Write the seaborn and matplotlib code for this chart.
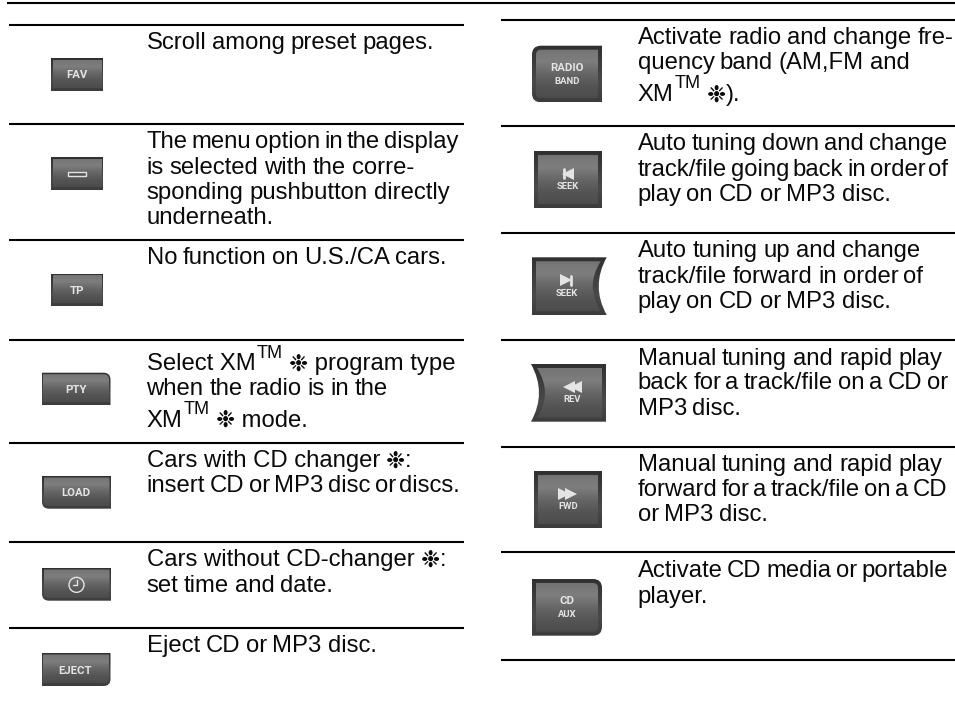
import re
import matplotlib
matplotlib.use('Agg')
import matplotlib.pyplot as plt
import numpy as np
import pandas as pd
import seaborn as sns
from matplotlib.patches import PathPatch, Rectangle, Circle
from matplotlib.path import Path

# Rows of the two tables (pixels)
TOP_RULE_Y = 2.7
LEFT_RULES = [25, 124, 239.7, 340, 443, 542, 627.7]
RIGHT_RULES = [20, 126, 232.7, 340, 446.7, 552.3, 659.7]

# text, baseline, right end of the line (the page squeezes word spaces to fit)
# ^ marks the TM superscript, * marks the option sign
LEFT_TEXT = [
    ('Scroll among preset pages.', 49.3, 434.3),
    ('The menu option in the display', 148, 456.7),
    ('is selected with the corre-', 174, 414),
    ('sponding pushbutton directly', 199, 448),
    ('underneath.', 224, 273),
    ('No function on U.S./CA cars.', 264, 446.7),
    ('Select XM^ * program type', 370, None),
    ('when the radio is in the', 395, 388),
    ('XM^ * mode.', 426.7, None),
    ('Cars with CD changer *:', 467, None),
    ('insert CD or MP3 disc or discs.', 492, 460),
    ('Cars without CD-changer *:', 566, None),
    ('set time and date.', 591.7, 333),
    ('Eject CD or MP3 disc.', 652, 376.7),
]
RIGHT_TEXT = [
    ('Activate radio and change fre-', 44, 953),
    ('quency band (AM,FM and', 69, 910),
    ('XM^ *).', 101, None),
    ('Auto tuning down and change', 150, 946.7),
    ('track/file going back in order of', 175.7, 948.3),
    ('play on CD or MP3 disc.', 201, 890.7),
    ('Auto tuning up and change', 257, 920),
    ('track/file forward in order of', 282.7, 923.3),
    ('play on CD or MP3 disc.', 307.7, 890.7),
    ('Manual tuning and rapid play', 364.7, 940.7),
    ('back for a track/file on a CD or', 389, 947.3),
    ('MP3 disc.', 415, 740.7),
    ('Manual tuning and rapid play', 470.7, 940.7),
    ('forward for a track/file on a CD', 495.7, 947.3),
    ('or MP3 disc.', 521, 768.3),
    ('Activate CD media or portable', 577, 947.7),
    ('player.', 603, 706),
]

# label, x0, x1, y0, y1, corner radii (tl, tr, br, bl), concave side
BUTTONS = [
    ('FAV', 51, 103, 58, 90.7, (0, 0, 0, 0), None),
    ('menu', 51, 103, 157, 190, (0, 0, 0, 0), None),
    ('TP', 51, 103, 273.5, 306, (0, 0, 0, 0), None),
    ('PTY', 41.5, 110.5, 372.7, 405, (0, 7, 0, 0), None),
    ('LOAD', 42, 111, 476, 508.7, (0, 0, 0, 7), None),
    ('clock', 42, 111, 568, 600.7, (0, 0, 0, 7), None),
    ('EJECT', 41.5, 110.5, 653, 686, (0, 0, 7, 0), None),
    ('RADIO\nBAND', 532, 602, 45.7, 102.3, (9, 0, 0, 9), None),
    ('prev\nSEEK', 533.7, 601.7, 151.3, 207.7, (0, 0, 0, 0), None),
    ('next\nSEEK', 531.7, 606.7, 257.3, 315, (0, 0, 0, 0), 'right'),
    ('rev\nREV', 531, 606, 364, 421.7, (0, 0, 0, 0), 'left'),
    ('fwd\nFWD', 533.7, 601.7, 471.3, 528.3, (0, 0, 0, 0), None),
    ('CD\nAUX', 532, 602, 579, 635.7, (0, 9, 9, 0), None),
]

PANEL_COLORS = ['#747474', '#7e7e7e', '#666666', '#555555', '#4c4c4c']
FRAME_COLORS = ['#303030', '#3e3e3e', '#4a4a4a', '#3c3c3c']

FONT = 'Liberation Sans'
BUTTON_FONT = 'Roboto'
FONT_SIZE = 17.2
SIGN = '\u2749'
SIGN_SIZE = 16.5
INK = '#0a0a0a'
BUTTON_INK = '#e4e4e4'

sns.set_theme(style='white')
plt.rcParams['font.family'] = [FONT, 'DejaVu Sans']

panel_cmap = sns.blend_palette(PANEL_COLORS, as_cmap=True)
frame_cmap = sns.blend_palette(FRAME_COLORS, as_cmap=True)
GRADIENT = np.linspace(0, 1, 64).reshape(-1, 1)


def outline(x0, x1, y0, y1, radii, notch, depth):
    tl, tr, br, bl = radii
    verts = [(x0 + tl, y0), (x1 - tr, y0)]
    codes = [Path.MOVETO, Path.LINETO]
    if tr:
        verts += [(x1, y0), (x1, y0 + tr)]
        codes += [Path.CURVE3, Path.CURVE3]
    if notch == 'right':
        verts += [(x1 - 2 * depth, (y0 + y1) / 2), (x1, y1)]
        codes += [Path.CURVE3, Path.CURVE3]
    else:
        verts += [(x1, y1 - br)]
        codes += [Path.LINETO]
    if br:
        verts += [(x1, y1), (x1 - br, y1)]
        codes += [Path.CURVE3, Path.CURVE3]
    verts += [(x0 + bl, y1)]
    codes += [Path.LINETO]
    if bl:
        verts += [(x0, y1), (x0, y1 - bl)]
        codes += [Path.CURVE3, Path.CURVE3]
    if notch == 'left':
        verts += [(x0 + 2 * depth, (y0 + y1) / 2), (x0, y0)]
        codes += [Path.CURVE3, Path.CURVE3]
    else:
        verts += [(x0, y0 + tl)]
        codes += [Path.LINETO]
    if tl:
        verts += [(x0, y0), (x0 + tl, y0)]
        codes += [Path.CURVE3, Path.CURVE3]
    return Path(verts, codes)


def gradient_fill(ax, path, cmap, extent):
    patch = PathPatch(path, transform=ax.transData, fc='none', ec='none')
    ax.add_patch(patch)
    im = ax.imshow(GRADIENT, cmap=cmap, extent=extent, aspect='auto', zorder=2, origin='upper')
    im.set_clip_path(patch)


def draw_icon(ax, kind, cx, cy):
    if kind == 'menu':
        ax.add_patch(Rectangle((cx - 9, cy - 2), 18, 4, fc='#555555', ec=BUTTON_INK, lw=1, zorder=3))
    elif kind == 'clock':
        ax.add_patch(Circle((cx, cy), 7.5, fc='none', ec=BUTTON_INK, lw=1, zorder=3))
        ax.plot([cx, cx, cx - 4], [cy - 5, cy + 0.5, cy + 0.5], color=BUTTON_INK, lw=1, zorder=3)
    elif kind == 'prev':
        ax.plot([cx + 0.5], [cy], marker='<', ms=9, color=BUTTON_INK, mew=0, zorder=3)
        ax.plot([cx - 4, cx - 4], [cy - 4.5, cy + 4.5], color=BUTTON_INK, lw=2, zorder=3)
    elif kind == 'next':
        ax.plot([cx - 0.5], [cy], marker='>', ms=9, color=BUTTON_INK, mew=0, zorder=3)
        ax.plot([cx + 4, cx + 4], [cy - 4.5, cy + 4.5], color=BUTTON_INK, lw=2, zorder=3)
    elif kind == 'rev':
        ax.plot([cx - 3.5, cx + 3.5], [cy, cy], ls='none', marker='<', ms=8, color=BUTTON_INK, mew=0, zorder=3)
    elif kind == 'fwd':
        ax.plot([cx - 3.5, cx + 3.5], [cy, cy], ls='none', marker='>', ms=8, color=BUTTON_INK, mew=0, zorder=3)


def draw_button(ax, label, x0, x1, y0, y1, radii, notch):
    big = (y1 - y0) > 45
    depth = 8 if notch else 0
    gradient_fill(ax, outline(x0, x1, y0, y1, radii, notch, depth), frame_cmap, (x0, x1, y1, y0))
    inset = 4 if big else 1.5
    ix0, ix1 = x0 + inset, x1 - inset
    iy0, iy1 = y0 + inset, y1 - inset - (0 if big else 1)
    if notch == 'right':
        ix1 -= 2
    if notch == 'left':
        ix0 += 2
    inner = tuple(max(r - inset, 0) for r in radii)
    gradient_fill(ax, outline(ix0, ix1, iy0, iy1, inner, notch, depth), panel_cmap, (ix0, ix1, iy1, iy0))

    cx = (x0 + x1) / 2
    cy = (y0 + y1) / 2
    if notch == 'right':
        cx -= 2.5
    if notch == 'left':
        cx += 4
    text_style = dict(color=BUTTON_INK, ha='center', va='center', family=BUTTON_FONT,
                      fontweight='bold', zorder=3)
    parts = label.split('\n')
    if label in ('menu', 'clock'):
        draw_icon(ax, label, cx, cy + 0.5)
    elif len(parts) == 1:
        ax.text(cx - 0.5, cy + 1, label, fontsize=8.2, **text_style)
    else:
        if parts[0] in ('prev', 'next', 'rev', 'fwd'):
            draw_icon(ax, parts[0], cx, cy - 6)
        else:
            ax.text(cx, cy - 6, parts[0], fontsize=8.2, **text_style)
        ax.text(cx, cy + 7, parts[1], fontsize=6.8, **text_style)


def advance(ax, renderer, string, **kwargs):
    probe = ax.text(0, 0, string + '.', **kwargs)
    dot = ax.text(0, 0, '.', **kwargs)
    width = probe.get_window_extent(renderer).width - dot.get_window_extent(renderer).width
    probe.remove()
    dot.remove()
    return width


def draw_line(ax, renderer, x, baseline, line, right):
    style = dict(color=INK, fontsize=FONT_SIZE, family=FONT)
    if right is not None:
        words = line.split(' ')
        widths = [advance(ax, renderer, w, **style) for w in words]
        gap = (right - x - sum(widths)) / max(len(words) - 1, 1)
        for word, width in zip(words, widths):
            ax.text(x, baseline, word, va='baseline', **style)
            x += width + gap
        return
    for run in re.split(r'(\^|\*)', line):
        if run == '':
            continue
        if run == '^':
            small = dict(color=INK, fontsize=FONT_SIZE * 0.76, family=FONT)
            ax.text(x + 1, baseline - 12.5, 'TM', va='baseline', **small)
            x += advance(ax, renderer, 'TM', **small) + 1
        elif run == '*':
            sign = dict(color=INK, fontsize=SIGN_SIZE, family='DejaVu Sans')
            ax.text(x - 0.5, baseline + 0.5, SIGN, va='baseline', **sign)
            x += advance(ax, renderer, SIGN, **sign) - 0.5
        else:
            ax.text(x, baseline, run, va='baseline', **style)
            x += advance(ax, renderer, run, **style)


def main():
    fig = plt.figure(figsize=(9.55, 7.09), dpi=100)
    ax = fig.add_axes([0, 0, 1, 1])
    renderer = fig.canvas.get_renderer()

    rows = [{'rule': 'top', 'x': 7, 'y': TOP_RULE_Y}, {'rule': 'top', 'x': 955, 'y': TOP_RULE_Y}]
    for i, y in enumerate(LEFT_RULES):
        rows += [{'rule': f'l{i}', 'x': 9, 'y': y}, {'rule': f'l{i}', 'x': 464, 'y': y}]
    for i, y in enumerate(RIGHT_RULES):
        rows += [{'rule': f'r{i}', 'x': 501, 'y': y}, {'rule': f'r{i}', 'x': 955, 'y': y}]
    rules = pd.DataFrame(rows)
    sns.lineplot(data=rules, x='x', y='y', units='rule', estimator=None, color='black',
                 linewidth=1.5, solid_capstyle='butt', ax=ax, legend=False)

    for button in BUTTONS:
        draw_button(ax, *button)

    ax.set_xlim(0, 955)
    ax.set_ylim(709, 0)

    for line, baseline, right in LEFT_TEXT:
        draw_line(ax, renderer, 146.5, baseline, line, right)
    for line, baseline, right in RIGHT_TEXT:
        draw_line(ax, renderer, 637.5, baseline, line, right)

    ax.axis('off')
    fig.savefig('out.png', dpi=100, facecolor='white')
    plt.close(fig)


if __name__ == '__main__':
    main()
